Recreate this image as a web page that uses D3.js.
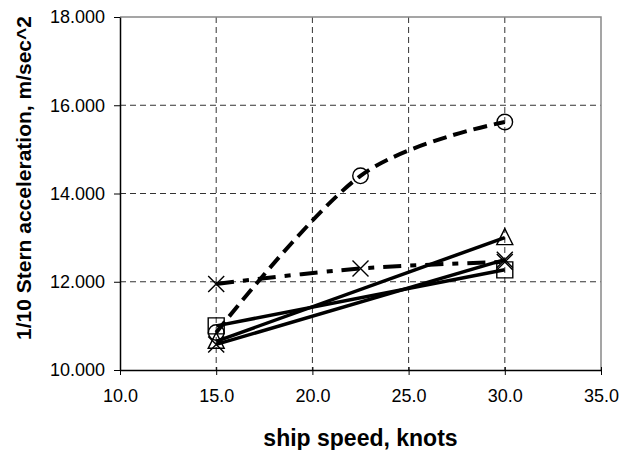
<!DOCTYPE html>
<html>
<head>
<meta charset="utf-8">
<script src="https://cdn.jsdelivr.net/npm/d3@7"></script>
<style>
  body { margin: 0; background: #fff; }
  svg { display: block; font-family: "Liberation Sans", Arial, sans-serif; }
</style>
</head>
<body>
<svg id="chart" width="623" height="450"></svg>
<script>
// ship speeds, knots
const speeds3 = [15, 22.5, 30];
const speeds2 = [15, 30];

// 1/10 stern acceleration values per series
const circleVals = [10.85, 14.4, 15.62];
const starVals = [11.95, 12.3, 12.45];
const triangleVals = [10.65, 13.0];
const squareVals = [11.0, 12.27];
const crossVals = [10.58, 12.5];

const xTicks = [10, 15, 20, 25, 30, 35];
const yTicks = [10, 12, 14, 16, 18];

const svg = d3.select("#chart");
const plotL = 120, plotR = 601, plotT = 17, plotB = 370;

const x = d3.scaleLinear().domain([10, 35]).range([plotL, plotR]);
const y = d3.scaleLinear().domain([10, 18]).range([plotB, plotT]);

// gridlines
svg.append("g").selectAll("line")
  .data(yTicks.slice(1, -1))
  .join("line")
  .attr("x1", plotL).attr("x2", plotR)
  .attr("y1", d => y(d)).attr("y2", d => y(d))
  .attr("stroke", "#333").attr("stroke-width", 1)
  .attr("stroke-dasharray", "6,4");

svg.append("g").selectAll("line")
  .data(xTicks.slice(1, -1))
  .join("line")
  .attr("y1", plotT).attr("y2", plotB)
  .attr("x1", d => x(d)).attr("x2", d => x(d))
  .attr("stroke", "#333").attr("stroke-width", 1)
  .attr("stroke-dasharray", "6,4");

// plot frame (top/right in gray)
svg.append("path")
  .attr("d", `M${plotL},${plotT}H${plotR}V${plotB}`)
  .attr("fill", "none").attr("stroke", "#888").attr("stroke-width", 1.5);

// axes
const xAxis = svg.append("g")
  .attr("transform", `translate(0,${plotB})`)
  .call(d3.axisBottom(x).tickValues(xTicks).tickFormat(d3.format(".1f")).tickSizeInner(5).tickSizeOuter(0).tickPadding(14));
xAxis.select(".domain").attr("stroke", "#000").attr("stroke-width", 1.5);
xAxis.selectAll(".tick line").attr("y1", -3).attr("stroke", "#000");
xAxis.selectAll("text").attr("font-size", 18).attr("fill", "#000");

const yAxis = svg.append("g")
  .attr("transform", `translate(${plotL},0)`)
  .call(d3.axisLeft(y).tickValues(yTicks).tickFormat(d3.format(".3f")).tickSizeInner(6).tickSizeOuter(0).tickPadding(9));
yAxis.select(".domain").attr("stroke", "#000").attr("stroke-width", 1.5);
yAxis.selectAll(".tick line").attr("stroke", "#000");
yAxis.selectAll("text").attr("font-size", 18).attr("fill", "#000");

// axis titles
svg.append("text")
  .attr("x", (plotL + plotR) / 2).attr("y", 446)
  .attr("text-anchor", "middle")
  .attr("font-size", 23).attr("font-weight", "bold")
  .text("ship speed, knots");

svg.append("text")
  .attr("transform", "translate(31,178) rotate(-90)")
  .attr("text-anchor", "middle")
  .attr("font-size", 21).attr("font-weight", "bold")
  .text("1/10 Stern acceleration, m/sec^2");

// series
const series = [
  { xs: speeds3, ys: circleVals, dash: "14,7", width: 4, curve: d3.curveCardinal, marker: "circle" },
  { xs: speeds3, ys: starVals, dash: "18,9,6,9", width: 4, curve: d3.curveCardinal, marker: "cross" },
  { xs: speeds2, ys: triangleVals, dash: null, width: 3.5, curve: d3.curveLinear, marker: "triangle" },
  { xs: speeds2, ys: squareVals, dash: null, width: 3.5, curve: d3.curveLinear, marker: "square" },
  { xs: speeds2, ys: crossVals, dash: null, width: 3.5, curve: d3.curveLinear, marker: "cross" }
];

const line = d3.line().x(d => x(d[0])).y(d => y(d[1]));

series.forEach(s => {
  const pts = s.xs.map((v, i) => [v, s.ys[i]]);
  svg.append("path")
    .datum(pts)
    .attr("d", line.curve(s.curve))
    .attr("fill", "none")
    .attr("stroke", "#000")
    .attr("stroke-width", s.width)
    .attr("stroke-dasharray", s.dash);
});

// markers drawn on top
const r = 8;
function markerPath(type) {
  if (type === "circle") return d3.symbol(d3.symbolCircle, 190)();
  if (type === "square") return `M${-r},${-r}H${r}V${r}H${-r}Z`;
  if (type === "triangle") return `M0,${-r - 1}L${r},${r - 1}H${-r}Z`;
  if (type === "cross") return `M${-r},${-r}L${r},${r}M${r},${-r}L${-r},${r}`;
}

series.forEach(s => {
  svg.append("g").selectAll("path")
    .data(s.xs.map((v, i) => [v, s.ys[i]]))
    .join("path")
    .attr("transform", d => `translate(${x(d[0])},${y(d[1])})`)
    .attr("d", markerPath(s.marker))
    .attr("fill", "none")
    .attr("stroke", "#000")
    .attr("stroke-width", 1.4);
});
</script>
</body>
</html>
